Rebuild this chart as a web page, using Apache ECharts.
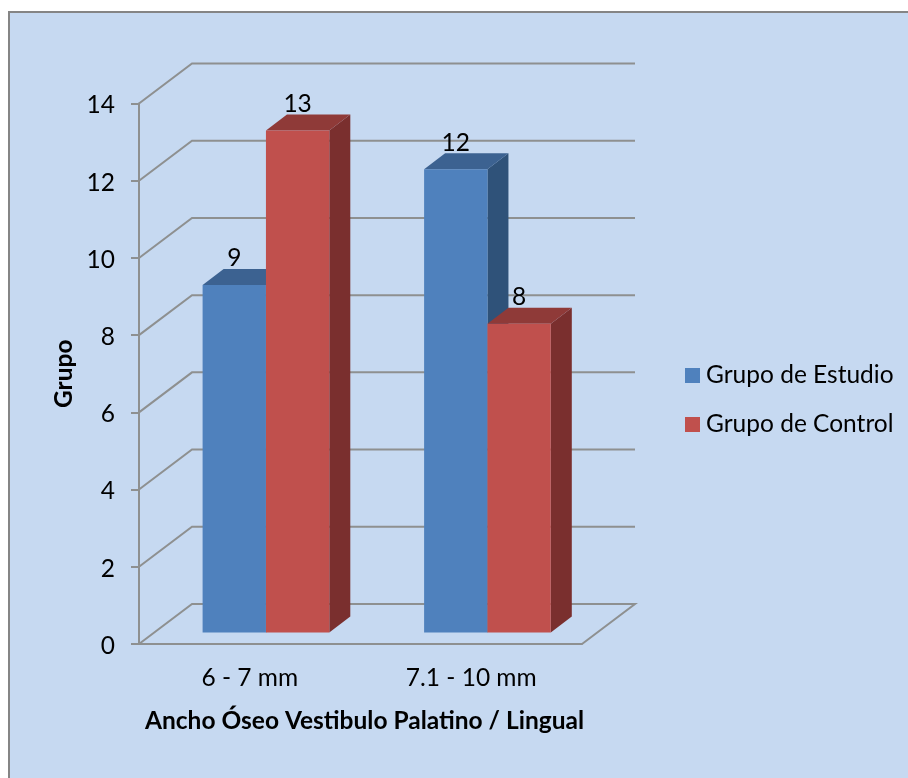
<!DOCTYPE html>
<html><head><meta charset="utf-8">
<script src="https://cdn.jsdelivr.net/npm/echarts@6/dist/echarts.min.js"></script>
<style>html,body{margin:0;padding:0;background:#fff}#c{width:908px;height:778px}</style>
</head><body><div id="c"></div>
<script>
var categories = ['6 - 7 mm', '7.1 - 10 mm'];
var grupoEstudio = [9, 12];
var grupoControl = [13, 8];
var wallTicks = [0, 2, 4, 6, 8, 10, 12, 14];

var FONT = 'Lato, "Open Sans", sans-serif';
var GRID = '#8E9090';
var LW = 2;
var FS = 24.5;
var WALL_DX = 53, WALL_DY = -40;
var FRONT_DX = 16.2, FRONT_DY = -11.5;
var SIDE_DX = 21, SIDE_DY = -16;
var BAR_RATIO = 0.286;

function wallItem(params, api) {
  var v = api.value(0);
  var p0 = api.coord([0, v]);
  var band = api.size([1, 0])[0];
  var x0 = p0[0] - band / 2, y0 = p0[1];
  var xRight = x0 + 2 * band + WALL_DX;
  var pts = [[x0, y0], [x0 + WALL_DX, y0 + WALL_DY], [xRight, y0 + WALL_DY]];
  if (v === 0) pts.push([x0 + 2 * band, y0]);
  return {
    type: 'polyline', silent: true,
    shape: { points: pts },
    style: { fill: null, stroke: GRID, lineWidth: LW }
  };
}

function barItem(colors, side) {
  return function (params, api) {
    var i = api.value(0), v = api.value(1);
    var top = api.coord([i, v]), base = api.coord([i, 0]);
    var band = api.size([1, 0])[0], w = band * BAR_RATIO;
    var xl = top[0] + FRONT_DX + (side < 0 ? -w : 0), xr = xl + w;
    var yt = top[1] + FRONT_DY, yb = base[1] + FRONT_DY;
    return {
      type: 'group', children: [
        { type: 'polygon', silent: true,
          shape: { points: [[xr, yt], [xr + SIDE_DX, yt + SIDE_DY], [xr + SIDE_DX, yb + SIDE_DY], [xr, yb]] },
          style: { fill: colors[2] } },
        { type: 'polygon', silent: true,
          shape: { points: [[xl, yt], [xl + SIDE_DX, yt + SIDE_DY], [xr + SIDE_DX, yt + SIDE_DY], [xr, yt]] },
          style: { fill: colors[1] } },
        { type: 'rect', silent: true,
          shape: { x: xl, y: yt, width: w, height: yb - yt },
          style: { fill: colors[0] } },
        { type: 'text', silent: true, z2: 50,
          style: { text: String(v), x: xl + w / 2, y: yt - 26.5, align: 'center', verticalAlign: 'middle',
                   font: FS + 'px ' + FONT, fill: '#000' } }
      ]
    };
  };
}

var chart = echarts.init(document.getElementById('c'), null, { renderer: 'canvas' });
chart.setOption({
  animation: false,
  backgroundColor: '#fff',
  graphic: [{
    type: 'rect', z: -10, silent: true,
    shape: { x: 9, y: 12, width: 1200, height: 1200 },
    style: { fill: '#C6D9F1', stroke: '#858585', lineWidth: 2 }
  }],
  grid: { left: 139, right: 908 - 582, top: 103.5, bottom: 778 - 644, containLabel: false },
  legend: {
    left: 685, top: 363, padding: 0, orient: 'vertical', itemWidth: 15, itemHeight: 15, itemGap: 24,
    icon: 'rect', selectedMode: false,
    data: ['Grupo de Estudio', 'Grupo de Control'],
    textStyle: { fontFamily: FONT, fontSize: FS, color: '#000', padding: [0, 0, 0, 1] }
  },
  xAxis: {
    type: 'category', data: categories,
    axisLine: { show: true, lineStyle: { color: GRID, width: LW } },
    axisTick: { show: false },
    axisLabel: { fontFamily: FONT, fontSize: FS, color: '#000', margin: 22 },
    name: 'Ancho Óseo Vestibulo Palatino / Lingual',
    nameLocation: 'middle', nameGap: 65,
    nameTextStyle: { fontFamily: FONT, fontSize: FS, fontWeight: 'bold', color: '#000', padding: [0, 0, 0, 8] }
  },
  yAxis: {
    type: 'value', min: 0, max: 14, interval: 2,
    axisLine: { show: true, lineStyle: { color: GRID, width: LW } },
    axisTick: { show: true, length: 8, lineStyle: { color: GRID, width: LW } },
    splitLine: { show: false },
    axisLabel: {
      margin: 24, formatter: '{t|{value}}',
      rich: { t: { fontFamily: FONT, fontSize: FS, color: '#000', padding: [4, 0, 0, 0] } }
    },
    name: 'Grupo', nameLocation: 'middle', nameGap: 62,
    nameTextStyle: { fontFamily: FONT, fontSize: FS, fontWeight: 'bold', color: '#000' }
  },
  series: [
    { type: 'custom', name: 'wall', z: 1, silent: true, renderItem: wallItem,
      data: wallTicks.map(function (t) { return [t]; }), encode: { y: 0 } },
    { type: 'custom', name: 'Grupo de Estudio', z: 2, itemStyle: { color: '#4F81BD' },
      renderItem: barItem(['#4F81BD', '#3C6291', '#2F5279'], -1),
      data: grupoEstudio.map(function (v, i) { return [i, v]; }), encode: { x: 0, y: 1 } },
    { type: 'custom', name: 'Grupo de Control', z: 3, itemStyle: { color: '#C0504D' },
      renderItem: barItem(['#C0504D', '#8F3A38', '#7A2F2E'], 1),
      data: grupoControl.map(function (v, i) { return [i, v]; }), encode: { x: 0, y: 1 } }
  ]
});
</script></body></html>
